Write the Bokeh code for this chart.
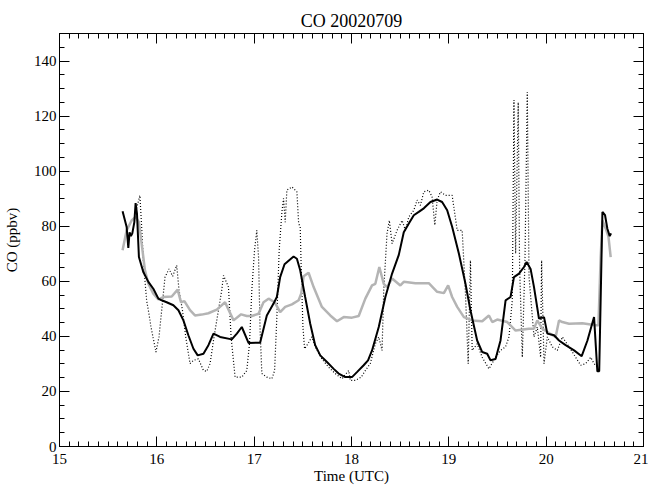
import numpy as np
from bokeh.plotting import figure
from bokeh.models import Range1d, LinearAxis, FixedTicker, CustomJSTickFormatter
from bokeh.embed import file_html
from bokeh.resources import INLINE

# ---- data (time in UTC hours, CO in ppbv) ----
black_t = [15.648, 15.690, 15.707, 15.720, 15.734, 15.748, 15.769, 15.782, 15.796, 15.816,
           15.861, 15.913, 15.964, 16.016, 16.050, 16.101, 16.170, 16.222, 16.273, 16.324,
           16.376, 16.420, 16.479, 16.530, 16.582, 16.650, 16.770, 16.822, 16.873, 16.942,
           17.061, 17.130, 17.199, 17.233, 17.267, 17.312, 17.405, 17.439, 17.473, 17.524,
           17.576, 17.627, 17.679, 17.748, 17.817, 17.868, 17.936, 18.005, 18.056, 18.125,
           18.170, 18.211, 18.280, 18.348, 18.417, 18.486, 18.537, 18.589, 18.640, 18.691,
           18.743, 18.811, 18.880, 18.931, 18.983, 19.034, 19.103, 19.171, 19.222, 19.291,
           19.343, 19.394, 19.428, 19.480, 19.531, 19.583, 19.634, 19.669, 19.721, 19.772,
           19.799, 19.840, 19.875, 19.926, 19.978, 20.012, 20.081, 20.132, 20.200, 20.287,
           20.365, 20.424, 20.492, 20.526, 20.545, 20.578, 20.605, 20.629, 20.653, 20.667]
black_co = [85.4, 79.7, 72.1, 77.8, 76.4, 77.4, 81.5, 88.4, 84.6, 68.8,
            63.4, 59.8, 57.3, 53.7, 53.1, 52.4, 51.3, 49.5, 45.8, 40.4,
            35.5, 33.1, 33.7, 36.8, 41.0, 39.8, 38.9, 41.0, 43.4, 37.6,
            37.7, 47.6, 51.9, 54.3, 61.5, 66.2, 69.0, 68.2, 64.0, 54.3,
            44.6, 36.8, 33.1, 30.7, 28.2, 26.5, 25.2, 25.2, 27.0, 29.5,
            31.3, 34.9, 43.4, 54.3, 62.8, 69.6, 77.8, 81.0, 84.0, 85.2,
            86.5, 88.8, 89.7, 88.8, 85.8, 79.8, 70.1, 59.1, 49.5, 38.5,
            34.3, 33.7, 31.3, 31.8, 38.5, 53.1, 54.3, 61.5, 62.8, 65.2,
            67.0, 64.5, 57.9, 46.5, 47.0, 41.0, 40.4, 38.5, 36.8, 34.9,
            32.8, 38.5, 47.0, 27.3, 27.3, 85.2, 84.0, 79.1, 76.4, 77.4]

gray_t = [15.648, 15.690, 15.741, 15.782, 15.816, 15.844, 15.878, 15.913, 15.964, 16.016,
          16.067, 16.153, 16.214, 16.248, 16.283, 16.341, 16.392, 16.461, 16.530, 16.616,
          16.701, 16.788, 16.866, 16.924, 16.976, 17.045, 17.096, 17.148, 17.210, 17.267,
          17.319, 17.388, 17.457, 17.483, 17.508, 17.559, 17.611, 17.696, 17.782, 17.851,
          17.920, 18.005, 18.074, 18.142, 18.211, 18.245, 18.286, 18.331, 18.365, 18.417,
          18.502, 18.537, 18.656, 18.794, 18.880, 18.949, 18.993, 19.034, 19.086, 19.155,
          19.240, 19.343, 19.412, 19.446, 19.497, 19.600, 19.686, 19.823, 19.875, 19.909,
          19.960, 20.029, 20.097, 20.132, 20.166, 20.235, 20.372, 20.509, 20.537, 20.560,
          20.578, 20.612, 20.640, 20.663]
gray_co = [71.3, 78.5, 82.1, 83.4, 81.5, 73.7, 64.0, 59.1, 55.5, 53.4,
           54.3, 54.5, 57.0, 52.4, 52.8, 49.5, 47.6, 47.9, 48.4, 49.7,
           52.4, 45.8, 48.0, 47.4, 47.4, 48.2, 52.4, 53.7, 52.4, 48.8,
           50.7, 51.6, 53.1, 55.5, 61.8, 63.1, 57.9, 50.7, 47.6, 45.5,
           47.0, 46.8, 47.4, 53.7, 58.5, 59.1, 65.2, 59.1, 57.9, 61.0,
           58.5, 59.8, 59.3, 59.3, 56.2, 55.7, 58.5, 54.3, 50.7, 47.0,
           45.8, 45.5, 47.6, 45.2, 46.1, 45.2, 42.1, 42.8, 42.8, 45.8,
           42.8, 41.2, 39.8, 45.8, 45.2, 44.6, 44.8, 44.0, 44.0, 68.8,
           82.1, 79.1, 76.2, 68.8]

dot_t = [15.792, 15.826, 15.844, 15.861, 15.895, 15.919, 15.940, 15.991, 16.022, 16.050,
         16.084, 16.125, 16.163, 16.204, 16.228, 16.263, 16.297, 16.341, 16.376, 16.427,
         16.479, 16.513, 16.547, 16.582, 16.633, 16.667, 16.685, 16.736, 16.763, 16.804,
         16.873, 16.924, 16.952, 16.976, 17.004, 17.027, 17.045, 17.061, 17.079, 17.130,
         17.182, 17.210, 17.233, 17.257, 17.285, 17.302, 17.319, 17.336, 17.388, 17.439,
         17.457, 17.473, 17.483, 17.501, 17.518, 17.552, 17.593, 17.627, 17.696, 17.765,
         17.833, 17.902, 17.971, 17.988, 18.039, 18.101, 18.142, 18.193, 18.245, 18.280,
         18.314, 18.331, 18.365, 18.389, 18.417, 18.468, 18.520, 18.554, 18.589, 18.640,
         18.674, 18.708, 18.743, 18.794, 18.828, 18.856, 18.880, 18.914, 18.965, 19.034,
         19.086, 19.137, 19.171, 19.199, 19.222, 19.240, 19.291, 19.343, 19.412, 19.480,
         19.531, 19.583, 19.618, 19.652, 19.669, 19.686, 19.713, 19.727, 19.755, 19.782,
         19.806, 19.824, 19.875, 19.909, 19.943, 19.953, 19.978, 20.012, 20.063, 20.115,
         20.166, 20.235, 20.303, 20.355, 20.406, 20.458, 20.492, 20.526]
dot_co = [86.5, 91.2, 79.8, 67.6, 53.1, 48.2, 43.4, 34.3, 39.8, 49.5,
          61.5, 64.5, 61.8, 65.8, 56.8, 49.5, 39.8, 30.1, 31.3, 31.8,
          27.6, 27.3, 30.1, 38.5, 49.5, 56.8, 62.1, 57.9, 39.8, 25.2,
          25.2, 27.6, 37.3, 56.8, 71.3, 78.5, 68.8, 42.1, 26.5, 25.2,
          24.6, 27.6, 47.0, 71.3, 85.2, 90.1, 81.5, 93.1, 94.3, 92.5,
          81.0, 79.8, 65.2, 43.4, 35.5, 37.3, 39.8, 36.2, 31.8, 28.8,
          26.5, 24.6, 27.6, 24.0, 24.0, 25.2, 27.6, 30.1, 37.3, 39.8,
          34.9, 56.8, 77.4, 82.1, 73.7, 78.5, 82.1, 78.5, 83.4, 85.8,
          89.5, 87.6, 92.5, 93.1, 90.7, 80.4, 89.5, 92.5, 91.2, 91.2,
          78.5, 78.5, 55.5, 30.1, 67.6, 34.9, 37.3, 32.4, 28.2, 32.4,
          34.9, 36.2, 39.8, 53.1, 125.8, 70.1, 125.0, 65.2, 32.4, 67.6,
          128.7, 61.5, 39.8, 43.4, 32.4, 67.6, 30.1, 39.8, 36.2, 34.9,
          39.8, 36.2, 32.4, 29.5, 30.1, 32.4, 30.1, 28.8]

x_ticks = [15, 16, 17, 18, 19, 20, 21]
y_ticks = [0, 20, 40, 60, 80, 100, 120, 140]
x_minor = [round(15 + 0.1 * i, 1) for i in range(61)]
y_minor = list(range(0, 151, 5))

FONT = "Liberation Serif"

p = figure(frame_width=584, frame_height=413,
           x_range=Range1d(15, 21), y_range=Range1d(0, 150),
           output_backend="svg", toolbar_location=None,
           min_border_left=58, min_border_right=5,
           min_border_top=33, min_border_bottom=42,
           title="CO 20020709")
p.background_fill_color = "white"
p.border_fill_color = "white"
p.outline_line_color = "black"
p.outline_line_width = 1
p.grid.visible = False

p.title.align = "center"
p.title.text_font = FONT
p.title.text_font_size = "18px"
p.title.text_font_style = "normal"
p.title.text_color = "black"
p.title.standoff = 6

xt = FixedTicker(ticks=x_ticks, minor_ticks=x_minor)
yt = FixedTicker(ticks=y_ticks, minor_ticks=y_minor)
blank = CustomJSTickFormatter(code="return '';")

def style(ax, ticker, show_labels):
    ax.ticker = ticker
    ax.axis_line_color = "black"
    ax.major_tick_in = 10
    ax.major_tick_out = 0
    ax.minor_tick_in = 5
    ax.minor_tick_out = 0
    ax.major_tick_line_color = "black"
    ax.minor_tick_line_color = "black"
    if show_labels:
        ax.major_label_text_font = FONT
        ax.major_label_text_font_size = "15px"
        ax.major_label_text_color = "black"
        ax.axis_label_text_font = FONT
        ax.axis_label_text_font_size = "15px"
        ax.axis_label_text_font_style = "normal"
        ax.axis_label_text_color = "black"
    else:
        ax.formatter = blank
        ax.major_label_standoff = 0

xa = p.xaxis[0]
style(xa, xt, True)
xa.axis_label = "Time (UTC)"
xa.major_label_standoff = 7
xa.axis_label_standoff = 1

ya = p.yaxis[0]
style(ya, yt, True)
ya.axis_label = "CO (ppbv)"
ya.major_label_standoff = 3
ya.axis_label_standoff = 11

top = LinearAxis()
style(top, xt, False)
p.add_layout(top, "above")
right = LinearAxis()
style(right, yt, False)
p.add_layout(right, "right")

p.line(dot_t, dot_co, line_color="black", line_width=1.2, line_dash="1 2")
p.line(gray_t, gray_co, line_color="#b4b4b4", line_width=2.5)
p.line(black_t, black_co, line_color="black", line_width=2)

open("out.html", "w").write(file_html(p, INLINE))
